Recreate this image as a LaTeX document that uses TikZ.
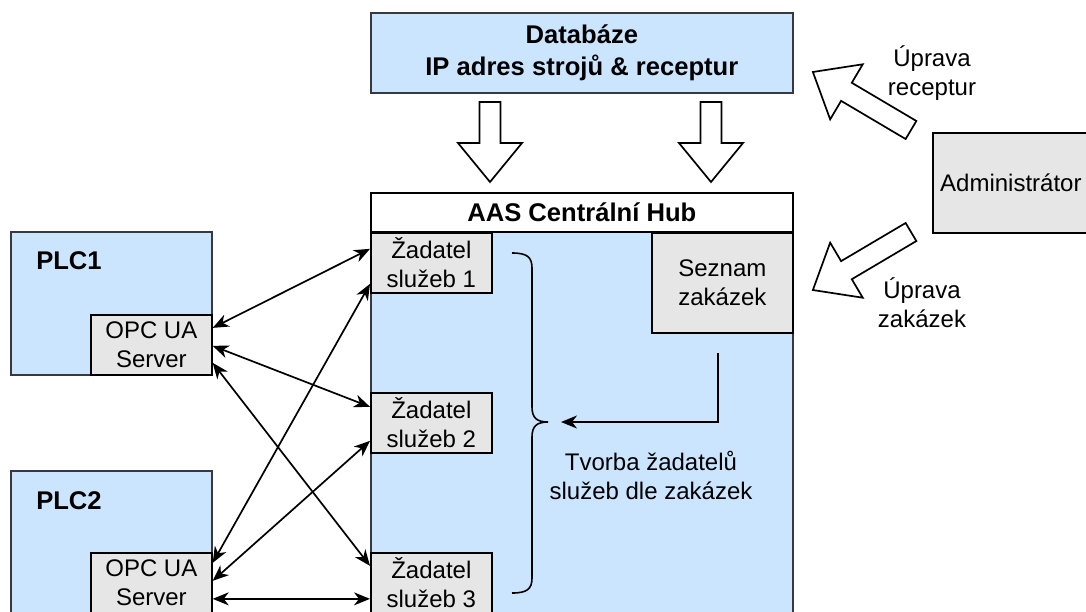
\documentclass[tikz,border=0pt]{standalone}
\usepackage{fontspec}
\setmainfont{Liberation Sans}
\usetikzlibrary{arrows.meta,calc}
\definecolor{paleblue}{HTML}{CCE5FF}
\definecolor{edgegray}{HTML}{36393D}
\definecolor{boxgray}{HTML}{E6E6E6}
\newcommand\normaltext{\fontsize{24}{29}\selectfont}
\newcommand\headtext{\bfseries\fontsize{25.6}{32}\selectfont}
\begin{document}
\begin{tikzpicture}[x=1pt,y=-1pt,
  every node/.style={font=\normaltext},
  bluebox/.style={draw=edgegray, fill=paleblue, line width=1.7pt, inner sep=0pt, align=center, anchor=north west},
  graybox/.style={draw=black, fill=boxgray, line width=1.7pt, inner sep=0pt, align=center, anchor=north west},
  whitebox/.style={draw=black, fill=white, line width=1.7pt, inner sep=0pt, align=center, anchor=north west},
  tip/.style={Stealth[length=16pt,width=13pt,inset=5pt]},
  conn/.style={line width=1.7pt, {Stealth[length=16pt,width=13pt,inset=5pt]}-{Stealth[length=16pt,width=13pt,inset=5pt]}},
  oneway/.style={line width=1.7pt, -{Stealth[length=16pt,width=13pt,inset=5pt]}},
  hollowline/.style={draw=black, fill=white, line width=1.7pt, line join=miter},
  pics/hollowarrow/.style={code={
    \draw[hollowline] (0pt,-10.5pt) -- (#1-39pt,-10.5pt) -- (#1-39pt,-32pt) -- (#1,0pt)
      -- (#1-39pt,32pt) -- (#1-39pt,10.5pt) -- (0pt,10.5pt) -- cycle;}}
]
\useasboundingbox (0,0) rectangle (1086,611);
\clip (0,0) rectangle (1086,611);

% database
\node[bluebox, minimum width=422pt, minimum height=80pt, font=\headtext] (db) at (370,12)
  {Databáze\\IP adres strojů \& receptur};

% central hub: body, then title bar
\node[bluebox, minimum width=422pt, minimum height=400pt] (hub) at (370,231) {};
\node[whitebox, minimum width=422pt, minimum height=39pt, font=\headtext] (hubhead) at (370,192) {AAS Centrální Hub};

% service requesters
\node[graybox, minimum width=121pt, minimum height=60pt] (zad1) at (370,232) {Žadatel\\služeb 1};
\node[graybox, minimum width=121pt, minimum height=60pt] (zad2) at (370,392) {Žadatel\\služeb 2};
\node[graybox, minimum width=121pt, minimum height=60pt] (zad3) at (370,552) {Žadatel\\služeb 3};

% order list
\node[graybox, minimum width=141pt, minimum height=100pt] (orders) at (651,232) {Seznam\\zakázek};

% PLCs with their OPC UA servers
\node[bluebox, minimum width=201pt, minimum height=143pt] (plc1) at (10,231) {};
\node[font=\headtext] at ($(plc1.north west)+(59,30)$) {PLC1};
\node[graybox, minimum width=121pt, minimum height=60pt] (opc1) at (90,314) {OPC UA\\Server};

\node[bluebox, minimum width=201pt, minimum height=160pt] (plc2) at (10,470) {};
\node[font=\headtext] at ($(plc2.north west)+(59,31)$) {PLC2};
\node[graybox, minimum width=121pt, minimum height=60pt] (opc2) at (90,552) {OPC UA\\Server};

% administrator
\node[graybox, minimum width=156pt, minimum height=100pt] (admin) at (932,132) {Administrátor};

% OPC UA connections
\draw[conn] ($(opc1.east)+(0,-17)$) -- ($(zad1.west)+(0,-14)$);
\draw[conn] ($(opc1.east)+(0,1)$)   -- ($(zad2.west)+(0,-16)$);
\draw[conn] ($(opc1.east)+(0,18)$)  -- ($(zad3.west)+(0,-17)$);
\draw[conn] ($(opc2.east)+(0,-20)$) -- ($(zad1.west)+(0,21)$);
\draw[conn] ($(opc2.east)+(0,-2)$)  -- ($(zad2.west)+(0,18)$);
\draw[conn] ($(opc2.east)+(0,16)$)  -- ($(zad3.west)+(0,16)$);

% brace grouping the requesters
\coordinate (btop) at (512,253);
\coordinate (bbot) at (512,593);
\coordinate (btip) at (548,422);
\draw[line width=1.6pt] (btop) .. controls (527,253) and (532,257) .. (532,268)
  -- (532,407) .. controls (532,418) and (537,422) .. (btip)
  .. controls (537,422) and (532,426) .. (532,437)
  -- (532,578) .. controls (532,589) and (527,593) .. (bbot);

% requesters created from orders
\coordinate (ordstart) at (718,353);
\coordinate (ordend) at (561,422);
\draw[oneway] (ordstart) |- (ordend);
\node[align=center] (create) at (651,475) {Tvorba žadatelů\\služeb dle zakázek};

% data flow from the database
\coordinate (dbl) at (490,102);
\coordinate (dbr) at (711,102);
\pic[rotate=-90] at (dbl) {hollowarrow=80pt};
\pic[rotate=-90] at (dbr) {hollowarrow=80pt};

% administrator edits
\coordinate (admup) at (911,130);
\coordinate (admdown) at (911,232);
\pic[rotate=149.4] at (admup) {hollowarrow=114pt};
\pic[rotate=-149.4] at (admdown) {hollowarrow=114pt};
\node[align=center] (recipes) at (932,73) {Úprava\\receptur};
\node[align=center] (editorders) at (922,303) {Úprava\\zakázek};
\end{tikzpicture}
\end{document}
